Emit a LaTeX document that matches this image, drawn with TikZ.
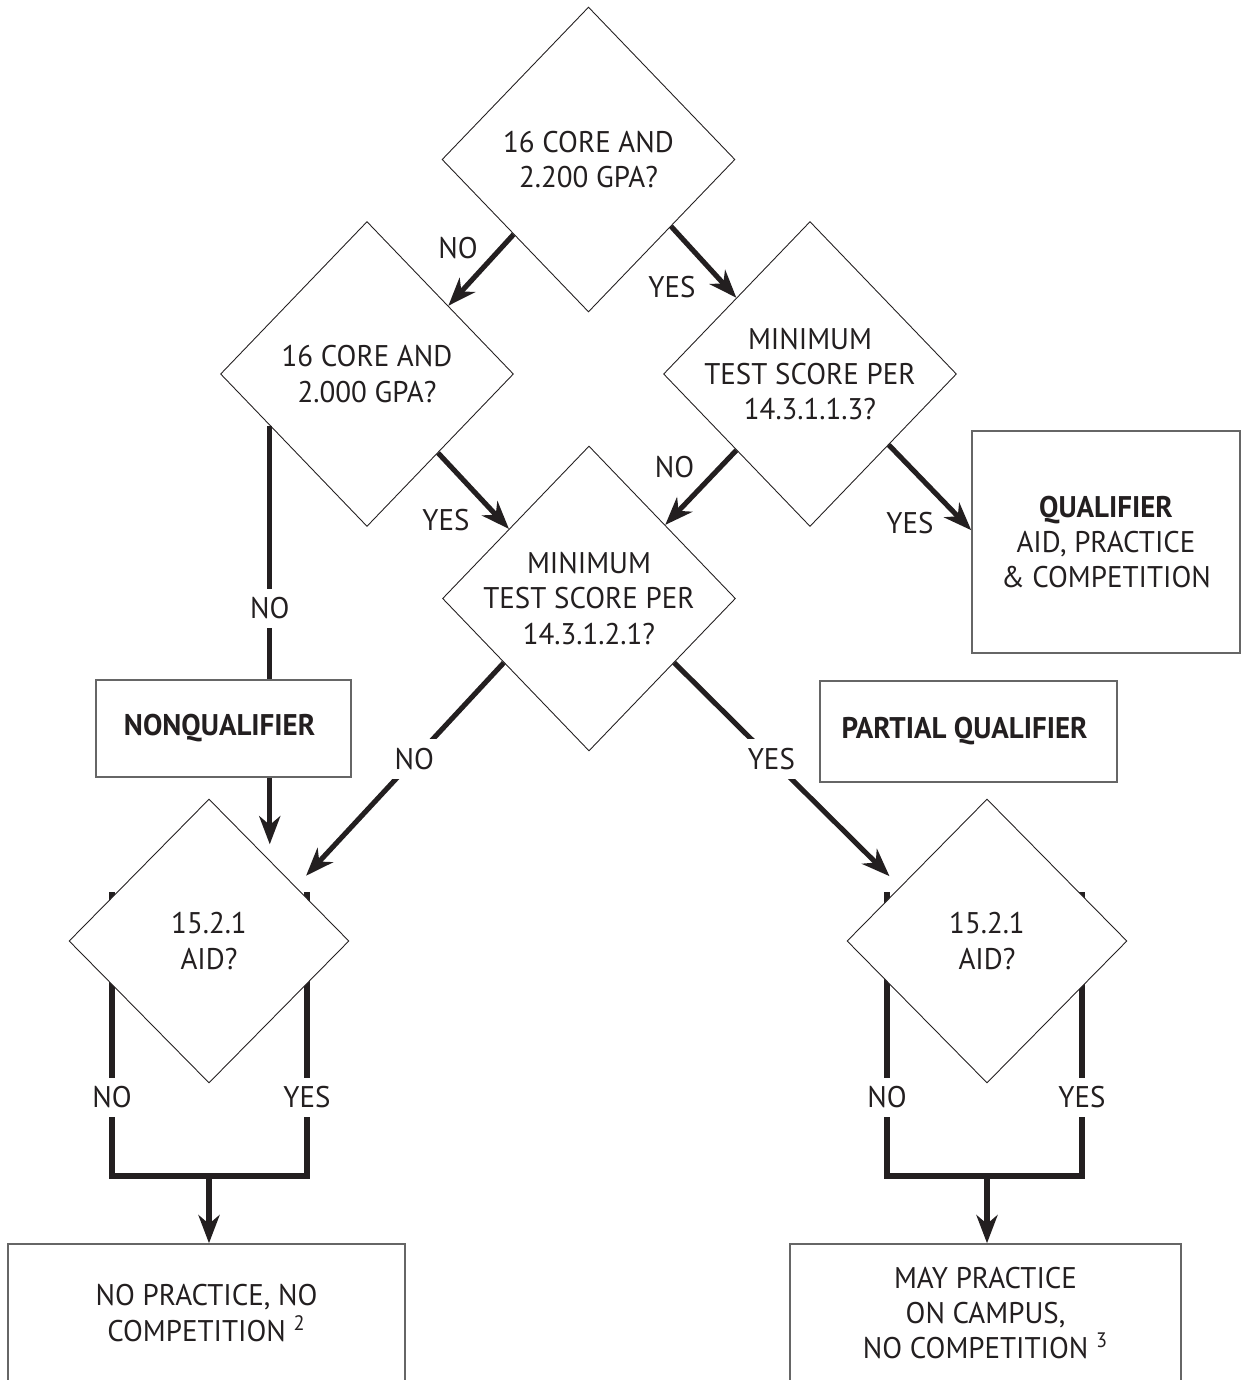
\documentclass[tikz,border=0pt]{standalone}
\usepackage{fontspec}
\setmainfont{PT Sans}[FakeStretch=0.97]
\usetikzlibrary{arrows.meta,shapes.geometric,backgrounds}
\definecolor{ink}{HTML}{231F20}

\begin{document}
\begin{tikzpicture}[x=0.02cm, y=-0.02cm,
    every node/.style={
        font=\fontsize{17}{20}\selectfont,
        text=ink,
        align=center
    },
    decision/.style={
        diamond,
        draw=ink,
        line width=0.5pt,
        fill=white,
        inner sep=-12pt,
        minimum width=5.86cm,
        minimum height=6.1cm
    },
    aid/.style={decision, minimum width=5.6cm, minimum height=5.68cm},
    outcome/.style={
        rectangle,
        draw=black!60,
        line width=0.9pt,
        inner sep=0pt
    },
    answer/.style={fill=white, inner xsep=3pt, inner ysep=5pt},
    flow/.style={-{Stealth[length=16pt, width=12pt, inset=5pt]}, ink, line width=2.9pt},
    branch/.style={ink, line width=2.9pt, line cap=rect}
]
    \useasboundingbox (0,0) rectangle (1241,1380);

    \node (core_2200) [decision, shift={(588.5,159.5)}]
    {
        16 CORE AND\\2.200 GPA?
    };
    \node (core_2000) [decision, shift={(367,374)}]
    {
        16 CORE AND\\2.000 GPA?
    };
    \node (test_1113) [decision, shift={(810,374)}]
    {
        MINIMUM\\TEST SCORE PER\\14.3.1.1.3?
    };
    \node (test_1221) [decision, shift={(589,598.5)}]
    {
        MINIMUM\\TEST SCORE PER\\14.3.1.2.1?
    };
    \node (aid_non) [aid, shift={(209,941)}]
    {
        15.2.1\\AID?
    };
    \node (aid_partial) [aid, shift={(987,941)}]
    {
        15.2.1\\AID?
    };
    \node (qualifier) [outcome, minimum width=5.36cm, minimum height=4.44cm, shift={(1106,542)}]
    {
        \textbf{QUALIFIER}\\AID, PRACTICE\\\& COMPETITION
    };
    \node (nonqualifier) [outcome, minimum width=5.1cm, minimum height=1.94cm, shift={(223.5,728.5)}]
    {
        \textbf{NONQUALIFIER}
    };
    \node (partial) [outcome, minimum width=5.94cm, minimum height=2.02cm, shift={(968.5,731.5)}]
    {
        \textbf{PARTIAL QUALIFIER}
    };
    \node (no_practice) [outcome, minimum width=7.94cm, minimum height=2.76cm, shift={(206.5,1313)}]
    {
        NO PRACTICE, NO\\COMPETITION \textsuperscript{2}
    };
    \node (may_practice) [outcome, minimum width=7.82cm, minimum height=2.76cm, shift={(985.5,1313)}]
    {
        MAY PRACTICE\\ON CAMPUS,\\NO COMPETITION \textsuperscript{3}
    };

    \node (no_2200) [shift={(458,248)}] {NO};
    \node (yes_2200) [shift={(672,287)}] {YES};
    \node (yes_2000) [shift={(446,520)}] {YES};
    \node (no_1113) [shift={(674.5,467)}] {NO};
    \node (yes_1113) [shift={(910,523)}] {YES};

    \draw[flow] (core_2200.225) to (core_2000.40);
    \draw[flow] (core_2200.321) to (test_1113.134);
    \draw[flow] (core_2000.312) to (test_1221.139);
    \draw[flow] (test_1113.226) to (test_1221.44);
    \draw[flow] (test_1113.318) to (qualifier.175);
    \draw[branch, line cap=butt] (core_2000.208) to node[answer, pos=0.72] {NO} (core_2000.208 |- nonqualifier.north);
    \draw[flow, shorten >=0.32cm] (core_2000.208 |- nonqualifier.south) to (core_2000.208 |- aid_non.53);
    \draw[flow, shorten >=0.3cm] (test_1221.217) to node[answer, pos=0.43] {NO} (aid_non.32);
    \draw[flow, shorten >=0.3cm] (test_1221.323) to node[answer, pos=0.43] {YES} (aid_partial.148);

    \coordinate (non_join) at ([shift={(0,235)}]aid_non.center);
    \coordinate (partial_join) at ([shift={(0,235)}]aid_partial.center);
    \begin{scope}[on background layer]
        \draw[branch] ([shift={(-97,-46)}]aid_non.center) to node[answer, pos=0.72] {NO} ([shift={(-97,235)}]aid_non.center)
            -- ([shift={(98,235)}]aid_non.center) to node[answer, pos=0.28] {YES} ([shift={(98,-46)}]aid_non.center);
        \draw[branch] ([shift={(-100,-46)}]aid_partial.center) to node[answer, pos=0.72] {NO} ([shift={(-100,235)}]aid_partial.center)
            -- ([shift={(95,235)}]aid_partial.center) to node[answer, pos=0.28] {YES} ([shift={(95,-46)}]aid_partial.center);
    \end{scope}
    \draw[flow] (non_join) to (non_join |- no_practice.north);
    \draw[flow] (partial_join) to (partial_join |- may_practice.north);
\end{tikzpicture}
\end{document}
